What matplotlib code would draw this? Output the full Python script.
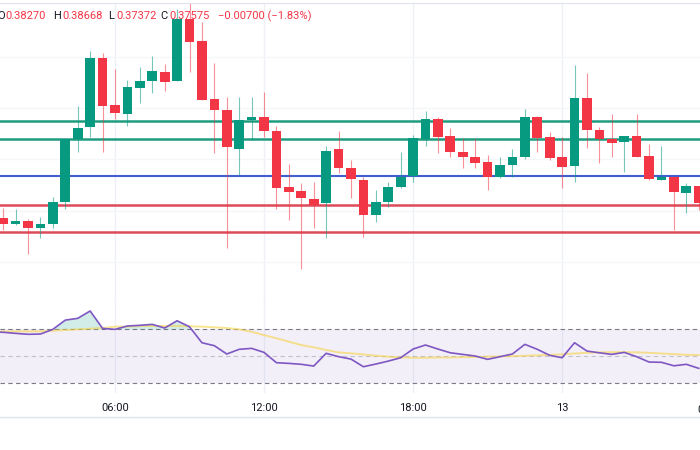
import numpy as np
import matplotlib.pyplot as plt
from matplotlib.lines import Line2D

# 30-minute candles, index 0 = 06:00
candle_idx = list(range(-9, 48))
opens = [0.3764, 0.3752, 0.3758, 0.3744, 0.3752, 0.3796, 0.3922, 0.3946, 0.4084,
         0.3990, 0.3972, 0.4024, 0.4038, 0.4056, 0.4038, 0.4162, 0.4118, 0.4002,
         0.3980, 0.3902, 0.3960, 0.3966, 0.3938, 0.3826, 0.3818, 0.3802, 0.3794,
         0.3902, 0.3864, 0.3840, 0.3770, 0.3796, 0.3826, 0.3848, 0.3922, 0.3962,
         0.3928, 0.3896, 0.3886, 0.3876, 0.3846, 0.3870, 0.3886, 0.3966, 0.3926,
         0.3886, 0.3868, 0.4004, 0.3940, 0.3922, 0.3916, 0.3928, 0.3888, 0.3840,
         0.3846, 0.3814, 0.3828]
highs = [0.3784, 0.3782, 0.3762, 0.3766, 0.3806, 0.3922, 0.3988, 0.4098, 0.4094,
         0.4062, 0.4040, 0.4066, 0.4088, 0.4072, 0.4182, 0.4196, 0.4156, 0.4074,
         0.4006, 0.4006, 0.4006, 0.4016, 0.3948, 0.3872, 0.3834, 0.3836, 0.3908,
         0.3938, 0.3880, 0.3846, 0.3820, 0.3836, 0.3896, 0.3930, 0.3978, 0.3966,
         0.3944, 0.3924, 0.3924, 0.3890, 0.3886, 0.3902, 0.3982, 0.3968, 0.3936,
         0.3926, 0.4070, 0.4054, 0.3946, 0.3972, 0.3928, 0.3972, 0.3912, 0.3908,
         0.3846, 0.3834, 0.3828]
lows = [0.3740, 0.3750, 0.3692, 0.3724, 0.3744, 0.3782, 0.3896, 0.3926, 0.3896,
        0.3962, 0.3948, 0.3994, 0.4014, 0.4018, 0.4038, 0.4056, 0.4000, 0.3894,
        0.3704, 0.3850, 0.3920, 0.3926, 0.3782, 0.3760, 0.3662, 0.3744, 0.3724,
        0.3854, 0.3804, 0.3726, 0.3756, 0.3786, 0.3824, 0.3836, 0.3908, 0.3894,
        0.3886, 0.3864, 0.3864, 0.3820, 0.3844, 0.3846, 0.3882, 0.3896, 0.3880,
        0.3824, 0.3836, 0.3904, 0.3874, 0.3886, 0.3856, 0.3886, 0.3840, 0.3840,
        0.3740, 0.3774, 0.3780]
closes = [0.3752, 0.3758, 0.3744, 0.3752, 0.3796, 0.3922, 0.3944, 0.4084, 0.3988,
          0.3974, 0.4026, 0.4038, 0.4058, 0.4036, 0.4162, 0.4116, 0.4000, 0.3980,
          0.3906, 0.3960, 0.3966, 0.3938, 0.3824, 0.3816, 0.3804, 0.3790, 0.3898,
          0.3864, 0.3842, 0.3770, 0.3796, 0.3826, 0.3846, 0.3924, 0.3962, 0.3926,
          0.3896, 0.3886, 0.3874, 0.3846, 0.3870, 0.3886, 0.3966, 0.3924, 0.3884,
          0.3866, 0.4004, 0.3940, 0.3922, 0.3914, 0.3928, 0.3886, 0.3842, 0.3846,
          0.3816, 0.3828, 0.3794]

# support / resistance levels drawn on the chart
green_levels = [0.3959, 0.3922]
blue_levels = [0.3847]
red_levels = [0.3790, 0.37354]

# RSI(14) and its moving average, index -10 .. 47
rsi_idx = list(range(-10, 48))
rsi = [68.2, 67.8, 67.0, 66.3, 66.5, 70.0, 76.9, 78.2, 83.7, 70.7,
       70.0, 72.5, 73.0, 73.7, 71.0, 76.4, 71.9, 60.0, 57.8, 51.6,
       55.1, 55.8, 52.8, 45.1, 44.6, 43.9, 42.6, 52.1, 49.6, 47.8,
       42.1, 44.1, 46.3, 48.8, 55.3, 58.3, 55.3, 52.5, 51.3, 50.1,
       47.6, 49.6, 51.6, 58.8, 55.1, 50.6, 48.8, 60.0, 53.8, 52.5,
       51.3, 52.8, 49.6, 45.6, 45.4, 42.8, 43.9, 40.9]
rsi_ma = [68.0, 68.5, 68.5, 68.5, 68.5, 69.0, 69.5, 70.0, 70.5, 71.0,
          72.0, 72.0, 72.5, 72.5, 72.5, 72.5, 72.3, 72.0, 71.5, 71.0,
          70.0, 68.2, 65.7, 63.3, 60.8, 58.3, 56.6, 54.6, 52.8, 52.1,
          51.3, 50.3, 49.6, 49.1, 48.8, 48.8, 49.0, 49.0, 49.2, 49.4,
          49.6, 49.8, 50.0, 50.3, 50.6, 51.0, 51.3, 52.0, 52.5, 52.8,
          53.0, 53.0, 52.8, 52.5, 52.0, 51.5, 51.0, 50.8]

time_ticks = [0, 12, 24, 36]
time_labels = ["06:00", "12:00", "18:00", "13"]

header = [("O", "#131722", -3), ("0.38270", "#f23645", 5),
          ("H", "#131722", 53), ("0.38668", "#f23645", 62),
          ("L", "#131722", 108), ("0.37372", "#f23645", 116),
          ("C", "#131722", 160), ("0.37575", "#f23645", 169),
          ("\u22120.00700 (\u22121.83%)", "#f23645", 218)]

UP = "#089981"
DOWN = "#f23645"
GRID = "#eef0f5"

W, H = 700, 450
fig = plt.figure(figsize=(7, 4.5), dpi=100)
ax = fig.add_axes([0, 1 - 302 / H, 1, 299 / H])
rax = fig.add_axes([0, 1 - 393 / H, 1, 91 / H], sharex=ax)

x0, x1 = -115 / 12.42, (700 - 115) / 12.42

# main pane
ax.set_xlim(x0, x1)
ax.set_ylim(0.42 - 0.0604, 0.42 - 0.0006)
for t in time_ticks:
    ax.axvline(t, color=GRID, lw=1, zorder=0)
    rax.axvline(t, color=GRID, lw=1, zorder=0)
for yy in [0.4086, 0.3984, 0.3882, 0.3778, 0.3676]:
    ax.axhline(yy, color="#f5f6f9", lw=1, zorder=0)

for lv in green_levels:
    ax.axhline(lv, color="#1e9c80", lw=1.8, zorder=1)
for lv in blue_levels:
    ax.axhline(lv, color="#3f5fd0", lw=1.5, zorder=1)
for lv in red_levels:
    ax.axhline(lv, color="#dd4a5a", lw=1.8, zorder=1)

o = np.array(opens)
c = np.array(closes)
cols = [UP if cc >= oo else DOWN for oo, cc in zip(o, c)]
ax.vlines(candle_idx, lows, highs, colors=cols, lw=0.8, alpha=0.55, zorder=2)
bottoms = np.minimum(o, c)
heights = np.maximum(np.abs(c - o), 0.0005)
ax.bar(candle_idx, heights, bottom=bottoms, width=0.78, color=cols, zorder=3)

ax.set_xticks([])
ax.set_yticks([])
for s in ["left", "right"]:
    ax.spines[s].set_visible(False)
ax.spines["top"].set_color("#e0e3eb")
ax.spines["bottom"].set_color("#e0e3eb")

for txt, col, px in header:
    fig.text(px / W, 1 - 16 / H, txt, color=col, fontsize=8, va="center",
             ha="left", family="Roboto")

# RSI pane
r = np.array(rsi)
rax.set_ylim(22.5, 90.4)
rax.axhspan(30, 70, color="#7e57c2", alpha=0.09, lw=0, zorder=0)
rax.axhline(70, color="#787b86", lw=0.8, ls=(0, (4, 3)), zorder=1)
rax.axhline(30, color="#787b86", lw=0.8, ls=(0, (4, 3)), zorder=1)
rax.axhline(50, color="#787b86", lw=0.8, ls=(0, (4, 3)), alpha=0.4, zorder=1)
rax.fill_between(rsi_idx, 70, r, where=r > 70, interpolate=True,
                 color=UP, alpha=0.18, lw=0, zorder=1)
rax.plot(rsi_idx, rsi_ma, color="#f5d447", lw=1.4, alpha=0.6, zorder=2)
rax.plot(rsi_idx, rsi, color="#7e57c2", lw=1.2, zorder=3)

rax.set_yticks([])
rax.set_xticks(time_ticks)
rax.set_xticklabels(time_labels, fontsize=8, color="#131722", family="Roboto")
rax.tick_params(axis="x", length=0, pad=7)
rax.text(48, -0.13, "06:00", transform=rax.get_xaxis_transform(), ha="center",
         va="top", fontsize=8, color="#131722", family="Roboto", clip_on=False)
for s in ["left", "right", "bottom", "top"]:
    rax.spines[s].set_visible(False)
rax.set_xlim(x0, x1)

fig.add_artist(Line2D([0, 1], [1 - 417 / H] * 2, color="#e0e3eb", lw=1))

fig.savefig("out.png", dpi=100)
